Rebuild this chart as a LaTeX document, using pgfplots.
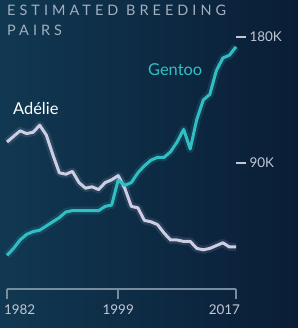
\documentclass[border=0pt]{standalone}
\usepackage{fontspec}
\setmainfont{Lato}
\newfontfamily\spaced[LetterSpace=28]{Lato}
\usepackage{pgfplots}
\pgfplotsset{compat=1.18}
\definecolor{bgL}{RGB}{17,56,82}
\definecolor{bgR}{RGB}{10,29,54}
\definecolor{gentoo}{RGB}{48,192,196}
\definecolor{adelie}{RGB}{205,206,228}
\definecolor{ticklab}{RGB}{192,200,212}
\definecolor{titlec}{RGB}{160,176,192}
\definecolor{axisc}{RGB}{120,140,160}
\pgfplotstableread{
year adelie gentoo
1982 105 24
1983 109 29
1984 113 35
1985 111 39
1986 112 41
1987 117 42
1988 110 45
1989 96 48
1990 83 51
1991 82 55
1992 84 56
1993 76 56
1994 72 56
1995 73 56
1996 71 56
1997 76 59
1998 78 60
1999 81 78
2000 72 74
2001 59 76
2002 58 83
2003 49 88
2004 48 92
2005 46 94
2006 40 94
2007 35 98
2008 35 105
2009 34 114
2010 34 100
2011 29 121
2012 28 135
2013 29 139
2014 31 156
2015 33 165
2016 30 167
2017 30 173
}\data
\begin{document}
\begin{tikzpicture}[x=1bp,y=1bp]
\shade[left color=bgL, right color=bgR] (0,0) rectangle (298,328);
\useasboundingbox (0,0) rectangle (298,328);
\node[anchor=north west, inner sep=0, align=left, text=titlec, font=\fontsize{14.5}{20}\spaced] at (7,323) {ESTIMATED BREEDING\\PAIRS};
\begin{axis}[at={(7bp,39bp)}, anchor=south west,
  width=229bp, height=252bp, scale only axis,
  xmin=1982, xmax=2017, ymin=0, ymax=180, clip=false,
  axis x line*=bottom, axis y line*=right,
  x axis line style={axisc, line width=1.5bp, -},
  y axis line style={draw=none},
  tick align=outside, major tick length=10bp,
  xtick={1982,1999,2017},
  xticklabels={\makebox[0pt][l]{\hspace{-3bp}1982},1999,\makebox[0pt][r]{2017\hspace{-4bp}}},
  x tick style={axisc, line width=1.5bp},
  ytick={90,180}, yticklabels={90K,180K},
  y tick style={ticklab, line width=2bp},
  xticklabel style={text=ticklab, font=\fontsize{13.5}{14}\selectfont, yshift=-2bp},
  yticklabel style={text=ticklab, font=\fontsize{13.5}{14}\selectfont},
  minor tick num=0,
]
\addplot[gentoo, line width=8bp, opacity=0.15, line join=round] table[x=year,y=gentoo]{\data};
\addplot[adelie, line width=8bp, opacity=0.12, line join=round] table[x=year,y=adelie]{\data};
\addplot[adelie, line width=3bp, line join=round] table[x=year,y=adelie]{\data};
\addplot[gentoo, line width=3bp, line join=round] table[x=year,y=gentoo]{\data};
\node[text=white, font=\fontsize{16.5}{18}\selectfont] at (axis cs:1986.4,128.6) {Adélie};
\node[text=gentoo, font=\fontsize{16.5}{18}\selectfont] at (axis cs:2007.7,157) {Gentoo};
\end{axis}
\end{tikzpicture}
\end{document}
